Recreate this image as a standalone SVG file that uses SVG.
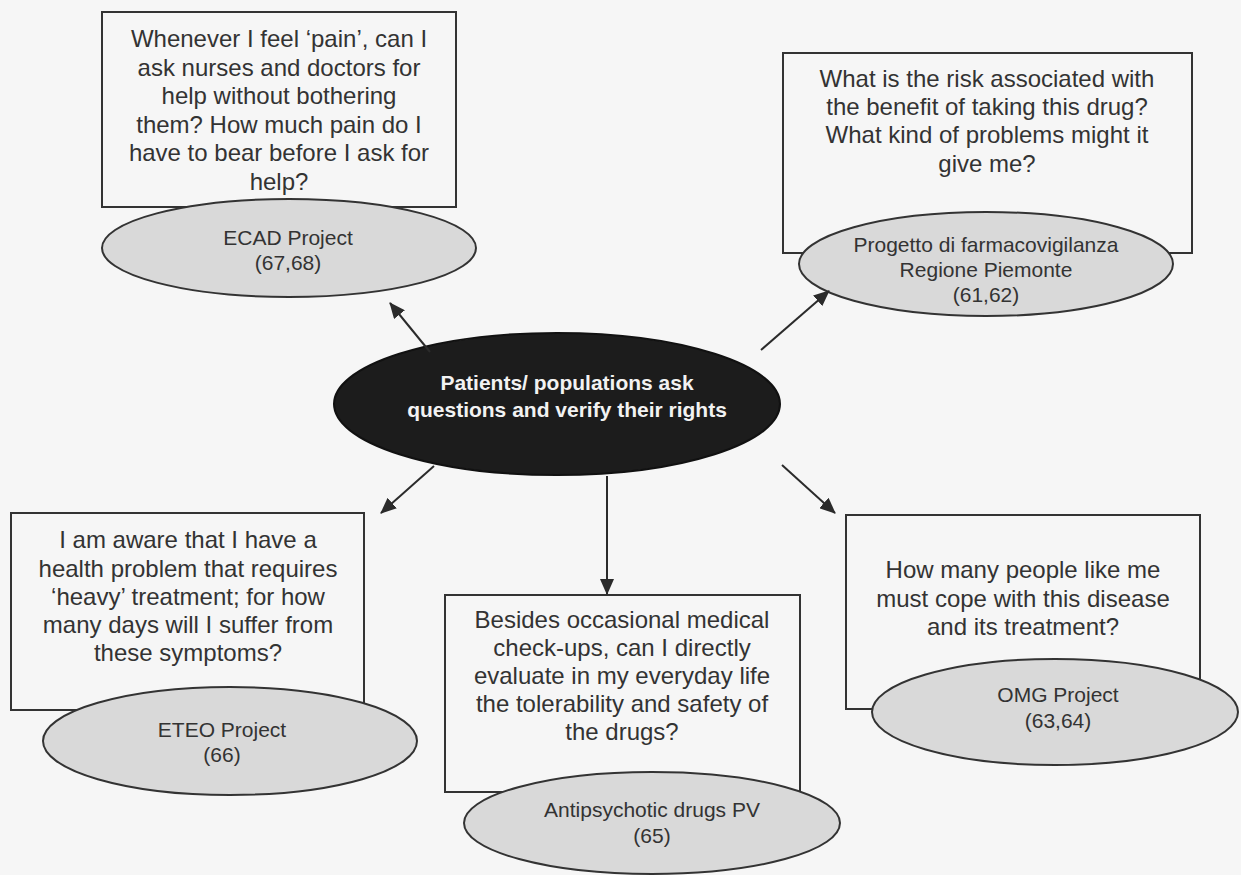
<svg xmlns="http://www.w3.org/2000/svg" width="1241" height="875" viewBox="0 0 1241 875">
  <defs>
    <marker id="arrow" viewBox="0 0 16 14" refX="15" refY="7" markerWidth="16" markerHeight="14" markerUnits="userSpaceOnUse" orient="auto">
      <path d="M0,0 L16,7 L0,14 Z" fill="#2b2b2b"/>
    </marker>
  </defs>
  <style>
    .q { fill: none; stroke: #333; stroke-width: 2; }
    .proj { fill: #d9d9d9; stroke: #333; stroke-width: 2; }
    .qt { font-family: "Liberation Sans", Arial, sans-serif; font-size: 24px; fill: #333; text-anchor: middle; }
    .pt { font-family: "Liberation Sans", Arial, sans-serif; font-size: 21px; fill: #333; text-anchor: middle; }
    .ct { font-family: "Liberation Sans", Arial, sans-serif; font-size: 21px; font-weight: bold; fill: #f2f2f2; text-anchor: middle; }
    .conn { stroke: #2b2b2b; stroke-width: 2; fill: none; marker-end: url(#arrow); }
  </style>

  <rect width="1241" height="875" fill="#f6f6f6"/>

  <!-- top-left question and its project -->
  <g id="ecad">
    <rect class="q" x="102" y="12" width="354" height="195"/>
    <text class="qt" x="279" y="47">Whenever I feel ‘pain’, can I</text>
    <text class="qt" x="279" y="75.5">ask nurses and doctors for</text>
    <text class="qt" x="279" y="104">help without bothering</text>
    <text class="qt" x="279" y="133">them? How much pain do I</text>
    <text class="qt" x="279" y="161">have to bear before I ask for</text>
    <text class="qt" x="279" y="190">help?</text>
    <ellipse class="proj" cx="289" cy="248" rx="187" ry="49"/>
    <text class="pt" x="288" y="245">ECAD Project</text>
    <text class="pt" x="288" y="270">(67,68)</text>
  </g>

  <!-- top-right question and its project -->
  <g id="piemonte">
    <rect class="q" x="783" y="53" width="409" height="200"/>
    <text class="qt" x="987" y="87">What is the risk associated with</text>
    <text class="qt" x="987" y="115">the benefit of taking this drug?</text>
    <text class="qt" x="987" y="143">What kind of problems might it</text>
    <text class="qt" x="987" y="172">give me?</text>
    <ellipse class="proj" cx="986" cy="264" rx="187" ry="52"/>
    <text class="pt" x="986" y="252">Progetto di farmacovigilanza</text>
    <text class="pt" x="986" y="277">Regione Piemonte</text>
    <text class="pt" x="986" y="302">(61,62)</text>
  </g>

  <!-- bottom-left question and its project -->
  <g id="eteo">
    <rect class="q" x="11" y="513" width="353" height="197"/>
    <text class="qt" x="188" y="548">I am aware that I have a</text>
    <text class="qt" x="188" y="577">health problem that requires</text>
    <text class="qt" x="188" y="605">‘heavy’ treatment; for how</text>
    <text class="qt" x="188" y="633">many days will I suffer from</text>
    <text class="qt" x="188" y="661">these symptoms?</text>
    <ellipse class="proj" cx="230" cy="741" rx="187" ry="54"/>
    <text class="pt" x="222" y="737">ETEO Project</text>
    <text class="pt" x="222" y="762">(66)</text>
  </g>

  <!-- bottom-centre question and its project -->
  <g id="antipsychotic">
    <rect class="q" x="445" y="595" width="355" height="197"/>
    <text class="qt" x="622" y="628">Besides occasional medical</text>
    <text class="qt" x="622" y="656">check-ups, can I directly</text>
    <text class="qt" x="622" y="684">evaluate in my everyday life</text>
    <text class="qt" x="622" y="712">the tolerability and safety of</text>
    <text class="qt" x="622" y="740">the drugs?</text>
    <ellipse class="proj" cx="652" cy="823" rx="188" ry="51"/>
    <text class="pt" x="652" y="817">Antipsychotic drugs PV</text>
    <text class="pt" x="652" y="843">(65)</text>
  </g>

  <!-- bottom-right question and its project -->
  <g id="omg">
    <rect class="q" x="846" y="515" width="354" height="194"/>
    <text class="qt" x="1023" y="578">How many people like me</text>
    <text class="qt" x="1023" y="607">must cope with this disease</text>
    <text class="qt" x="1023" y="635">and its treatment?</text>
    <ellipse class="proj" cx="1055" cy="712" rx="183" ry="53"/>
    <text class="pt" x="1058" y="702">OMG Project</text>
    <text class="pt" x="1058" y="728">(63,64)</text>
  </g>

  <!-- central node -->
  <g id="patients">
    <ellipse cx="557" cy="404" rx="223" ry="71" fill="#1c1c1c" stroke="#111" stroke-width="2"/>
    <text class="ct" x="567" y="390">Patients/ populations ask</text>
    <text class="ct" x="567" y="417">questions and verify their rights</text>
  </g>

  <!-- arrows from the central node -->
  <g id="connectors">
    <line class="conn" x1="430" y1="352" x2="390" y2="303"/>
    <line class="conn" x1="761" y1="350" x2="829" y2="291"/>
    <line class="conn" x1="434" y1="466" x2="381" y2="513"/>
    <line class="conn" x1="607" y1="476" x2="607" y2="594"/>
    <line class="conn" x1="782" y1="465" x2="835" y2="513"/>
  </g>
</svg>
